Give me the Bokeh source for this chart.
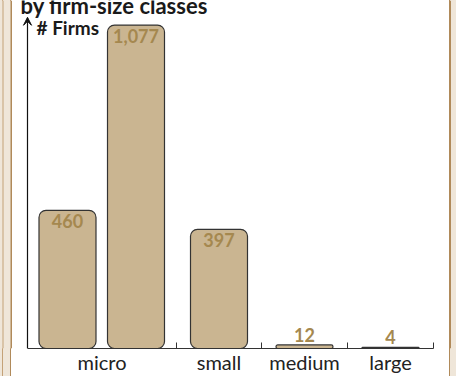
from bokeh.plotting import figure
from bokeh.models import Range1d, FixedTicker, Arrow, VeeHead, ColumnDataSource
from bokeh.core.properties import value
from bokeh.embed import file_html
from bokeh.resources import INLINE

# ---- data ----
groups = ["micro", "small", "medium", "large"]
bar_group = ["micro", "micro", "small", "medium", "large"]
firms = [460, 1077, 397, 12, 4]
labels = ["460", "1,077", "397", "12", "4"]
title_text = "by firm-size classes"
y_title = "# Firms"

# ---- layout (x in px-like units measured from the y axis) ----
W, H = 456, 376
ax_left, ax_right, ax_bottom, ax_top = 27, 433, 352, 17   # canvas px
group_width = {"micro": 149, "small": 85, "medium": 86, "large": 86}
edges = [0]
for g in groups:
    edges.append(edges[-1] + group_width[g])
centers = {g: (edges[i] + edges[i + 1]) / 2 for i, g in enumerate(groups)}
bar_x = [40, 108.5] + [centers[g] for g in groups[1:]]
bar_w = 57

y_arrow = 1103                       # value at the arrow tip
dpp = y_arrow / (ax_bottom - ax_top)  # value units per px
y_top = ax_bottom * dpp

BEIGE, BROWN, BROWN2 = "#efe6d9", "#b08a5a", "#c4a278"
grad = ("linear-gradient(to right, {b} 0px, {b} 2px, {c} 2px, {c} 3px, {b} 3px, "
        "{b} 10px, {r} 10px, {r} 11.5px, #ffffff 11.5px, #ffffff 449px, {r} 449px, "
        "{r} 450.5px, {b} 450.5px, {b} 456px)").format(b=BEIGE, c=BROWN2, r=BROWN)

p = figure(width=W, height=H, output_backend="svg", toolbar_location=None,
           x_range=Range1d(-ax_left, W - ax_left),
           y_range=Range1d(0, y_top),
           min_border_left=0, min_border_right=0,
           min_border_bottom=H - ax_bottom, min_border_top=0,
           styles={"background": grad})
p.outline_line_color = None
p.grid.visible = False
p.yaxis.visible = False
p.background_fill_color = None
p.border_fill_color = None

# side strips inside the frame (canvas px converted to x units)
sx = [(0, 11.5, BEIGE), (450.5, 456, BEIGE), (2, 3, BROWN2), (10, 11.5, BROWN), (449, 450.5, BROWN)]
p.quad(left=[a - ax_left for a, b, c in sx], right=[b - ax_left for a, b, c in sx],
       bottom=0, top=y_top, fill_color=[c for a, b, c in sx], line_color=None)

src = ColumnDataSource(dict(x=bar_x, top=firms))
p.vbar(x="x", top="top", bottom=0, width=bar_w, source=src,
       fill_color="#cab591", line_color="#333333", line_width=1.2,
       border_radius=7)

ins = ColumnDataSource(dict(x=[x for x, v in zip(bar_x, firms) if v > 100],
                            y=[v for v in firms if v > 100],
                            t=[l for l, v in zip(labels, firms) if v > 100]))
out = ColumnDataSource(dict(x=[x for x, v in zip(bar_x, firms) if v <= 100],
                            y=[v for v in firms if v <= 100],
                            t=[l for l, v in zip(labels, firms) if v <= 100]))
lab_font = value("Lato")
p.text(x="x", y="y", text="t", source=ins, text_align="center", text_baseline="top",
       y_offset=4, text_font=lab_font, text_font_style="bold",
       text_font_size="18px", text_color="#a5884f")
p.text(x="x", y="y", text="t", source=out, text_align="center", text_baseline="bottom",
       y_offset=-3, text_font=lab_font, text_font_style="bold",
       text_font_size="18px", text_color="#a5884f")

ax = p.xaxis[0]
ax.bounds = (edges[0], edges[-1])
ax.ticker = FixedTicker(ticks=[centers[g] for g in groups], minor_ticks=edges[1:])
ax.major_label_overrides = {centers[g]: g for g in groups}
ax.major_tick_in = 0
ax.major_tick_out = 0
ax.minor_tick_in = 6
ax.minor_tick_out = 0
ax.minor_tick_line_color = "#333333"
ax.axis_line_color = "#333333"
ax.axis_line_width = 1.2
ax.major_label_standoff = 1
ax.major_label_text_font = "Lato"
ax.major_label_text_font_size = "20px"
ax.major_label_text_color = "#222222"

p.add_layout(Arrow(x_start=0, y_start=0, x_end=0, y_end=y_arrow,
                   line_color="#111111", line_width=1.2,
                   end=VeeHead(size=8, line_color="#111111", fill_color="#111111")))

p.text(x=[9], y=[(ax_bottom - 27) * dpp], text=[y_title], text_font=value("Lato"),
       text_font_style="bold", text_font_size="19px", text_color="#1a1a1a",
       text_baseline="alphabetic")
p.text(x=[-7], y=[(ax_bottom - 5) * dpp], text=[title_text], text_font=value("Lato"),
       text_font_style="bold", text_font_size="22px", text_color="#1a1a1a",
       text_baseline="alphabetic")

open("out.html", "w").write(file_html(p, INLINE))
